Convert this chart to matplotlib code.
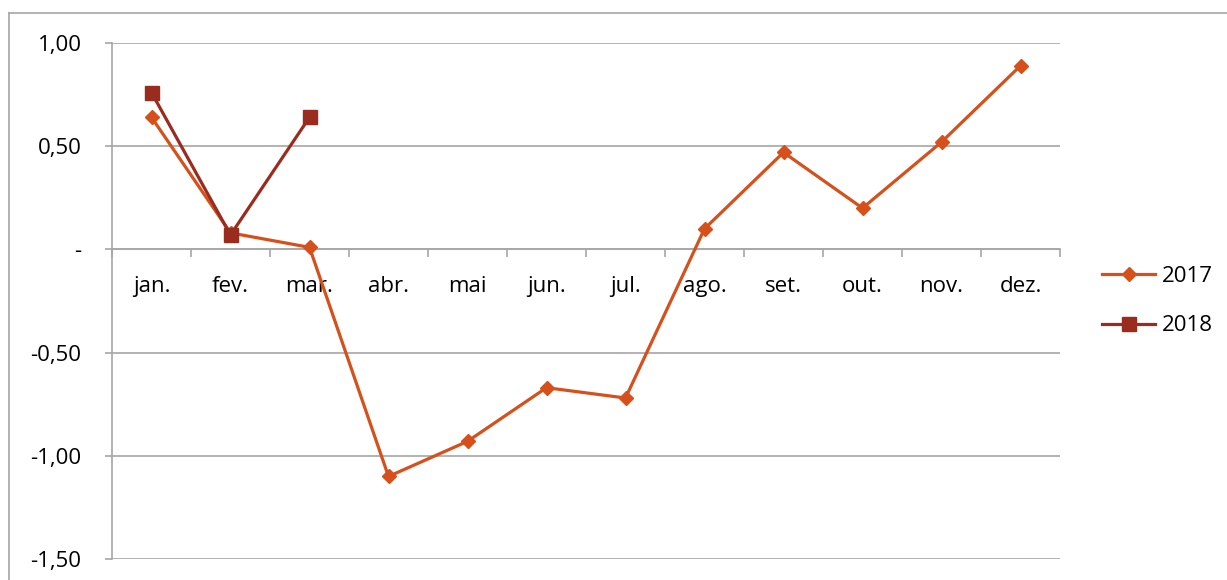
import matplotlib
matplotlib.use("Agg")
import matplotlib.pyplot as plt
from matplotlib.lines import Line2D
import numpy as np

months = ["jan.", "fev.", "mar.", "abr.", "mai", "jun.", "jul.", "ago.", "set.", "out.", "nov.", "dez."]
v2017 = [0.64, 0.08, 0.01, -1.10, -0.93, -0.67, -0.72, 0.10, 0.47, 0.20, 0.52, 0.89]
v2018 = [0.76, 0.07, 0.64]
yticks = [1.0, 0.5, 0.0, -0.5, -1.0, -1.5]
ylabels = ["1,00", "0,50", "-", "-0,50", "-1,00", "-1,50"]

c2017 = "#D6501B"
c2018 = "#9A2B1F"
grid_c = "#A6A6A6"

plt.rcParams['font.family'] = ['Open Sans', 'DejaVu Sans']
FS = 16

fig = plt.figure(figsize=(12.27, 5.80), dpi=100)
ax = fig.add_axes([112/1227, 1-559/580, (1060-112)/1227, (559-43)/580])

x = np.arange(len(months))
ax.plot(x, v2017, color=c2017, lw=2.3, marker="D", ms=7.5, label="2017", zorder=3)
ax.plot(x[:len(v2018)], v2018, color=c2018, lw=2.3, marker="s", ms=10, label="2018", zorder=4)

ax.set_xlim(-0.5, len(months) - 0.5)
ax.set_ylim(-1.5, 1.0)
ax.set_yticks(yticks)
ax.set_yticklabels(ylabels, fontsize=FS)
ax.yaxis.grid(True, color=grid_c, lw=1.2)
ax.set_axisbelow(True)

for s in ["top", "right"]:
    ax.spines[s].set_visible(False)
ax.spines["left"].set_color(grid_c)
ax.spines["left"].set_linewidth(1.2)
ax.spines["bottom"].set_position(("data", 0))
ax.spines["bottom"].set_color(grid_c)
ax.spines["bottom"].set_linewidth(1.2)

ax.set_xticks(x)
ax.set_xticklabels(months, fontsize=FS)
ax.set_xticks(np.arange(-0.5, len(months)), minor=True)
ax.tick_params(axis="x", which="major", length=0, pad=19)
ax.tick_params(axis="x", which="minor", length=6, color=grid_c, width=1.2, direction="out")
ax.tick_params(axis="y", length=5, color=grid_c, width=1.2, pad=17)

handles = [Line2D([], [], color=c2017, lw=2.3, marker="D", ms=7.5),
           Line2D([], [], color=c2018, lw=2.3, marker="s", ms=10)]
fig.legend(handles, ["2017", "2018"], loc="center left",
           bbox_to_anchor=(1082/1227, 1-301/580), frameon=False, fontsize=FS,
           handlelength=2.4, handletextpad=0.3, labelspacing=1.3)

# outer chart border (partially visible)
fig.add_artist(Line2D([9/1227, 1.0], [1-13/580, 1-13/580], transform=fig.transFigure, color="#A6A6A6", lw=1.2))
fig.add_artist(Line2D([9/1227, 9/1227], [1-13/580, 0.0], transform=fig.transFigure, color="#A6A6A6", lw=1.2))

fig.savefig("out.png", dpi=100)
